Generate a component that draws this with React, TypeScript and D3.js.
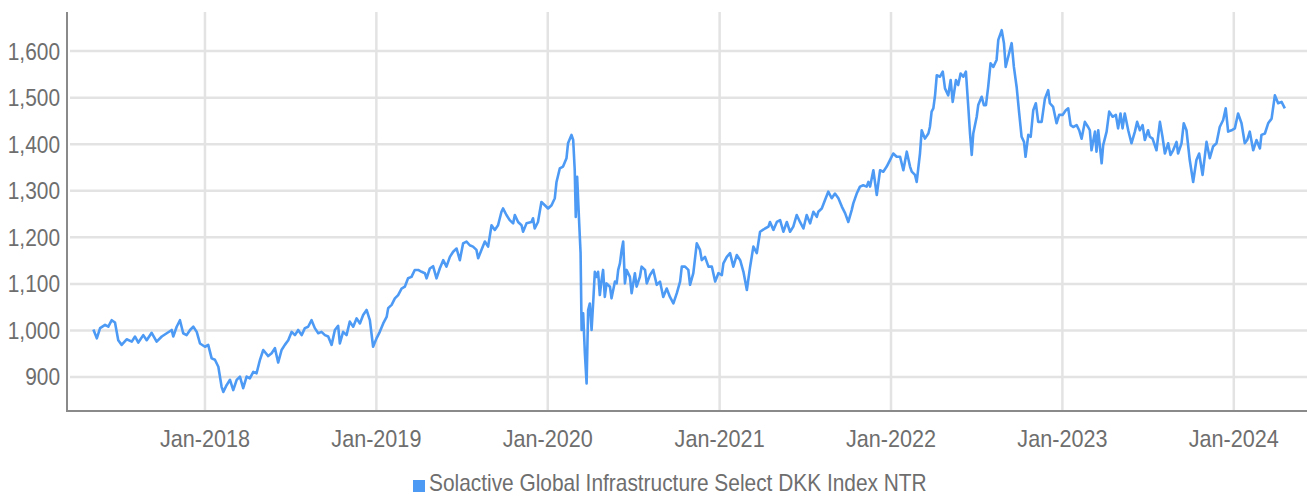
import * as d3 from "d3";
import { useEffect, useRef } from "react";

const seriesName = "Solactive Global Infrastructure Select DKK Index NTR";
const yTicks = [900, 1000, 1100, 1200, 1300, 1400, 1500, 1600];
const xTickYears = [2018, 2019, 2020, 2021, 2022, 2023, 2024];

// [decimal year, index level]
const data2017 = [
  [2017.349, 1002], [2017.369, 983], [2017.388, 1005], [2017.417, 1012], [2017.436, 1008], [2017.456, 1022],
  [2017.475, 1017], [2017.494, 979], [2017.514, 969], [2017.543, 981], [2017.573, 976], [2017.592, 987],
  [2017.611, 974], [2017.640, 990], [2017.660, 979], [2017.689, 995], [2017.718, 976], [2017.748, 987],
  [2017.777, 994], [2017.806, 1001], [2017.815, 987], [2017.835, 1008], [2017.854, 1022], [2017.873, 994],
  [2017.893, 990], [2017.913, 1001], [2017.932, 1008], [2017.952, 997], [2017.971, 972],
];
const data2018 = [
  [2018.000, 965], [2018.019, 969], [2018.039, 940], [2018.058, 937], [2018.078, 922], [2018.097, 879],
  [2018.107, 868], [2018.127, 883], [2018.146, 894], [2018.165, 872], [2018.185, 894], [2018.204, 901],
  [2018.223, 876], [2018.243, 901], [2018.262, 897], [2018.282, 911], [2018.301, 908], [2018.321, 937],
  [2018.340, 958], [2018.369, 945], [2018.389, 951], [2018.408, 962], [2018.427, 931], [2018.447, 958],
  [2018.466, 969], [2018.486, 979], [2018.506, 997], [2018.525, 990], [2018.544, 1001], [2018.564, 990],
  [2018.583, 1005], [2018.602, 1008], [2018.622, 1022], [2018.641, 1005], [2018.661, 994], [2018.680, 997],
  [2018.700, 990], [2018.719, 987], [2018.739, 969], [2018.758, 1001], [2018.777, 1010], [2018.787, 972],
  [2018.806, 997], [2018.826, 990], [2018.845, 1019], [2018.865, 1008], [2018.885, 1026], [2018.904, 1015],
  [2018.923, 1033], [2018.943, 1044], [2018.962, 1022], [2018.981, 965],
];
const data2019 = [
  [2019.001, 983], [2019.020, 997], [2019.040, 1015], [2019.060, 1029], [2019.069, 1048], [2019.089, 1055],
  [2019.108, 1069], [2019.127, 1076], [2019.147, 1090], [2019.166, 1094], [2019.185, 1112], [2019.205, 1115],
  [2019.224, 1130], [2019.244, 1130], [2019.264, 1126], [2019.283, 1123], [2019.293, 1112], [2019.312, 1133],
  [2019.331, 1138], [2019.351, 1112], [2019.370, 1133], [2019.390, 1151], [2019.409, 1137], [2019.429, 1158],
  [2019.448, 1169], [2019.468, 1176], [2019.487, 1151], [2019.506, 1187], [2019.526, 1191], [2019.545, 1183],
  [2019.564, 1180], [2019.584, 1173], [2019.594, 1155], [2019.613, 1173], [2019.633, 1191], [2019.652, 1180],
  [2019.672, 1226], [2019.691, 1216], [2019.710, 1226], [2019.730, 1255], [2019.739, 1262], [2019.759, 1248],
  [2019.778, 1237], [2019.798, 1230], [2019.808, 1248], [2019.827, 1233], [2019.847, 1226], [2019.856, 1212],
  [2019.876, 1230], [2019.905, 1233], [2019.914, 1241], [2019.924, 1219], [2019.943, 1233], [2019.963, 1276],
  [2019.983, 1269],
];
const data2020 = [
  [2020.002, 1262], [2020.022, 1269], [2020.041, 1284], [2020.051, 1319], [2020.070, 1348], [2020.089, 1352],
  [2020.109, 1370], [2020.118, 1402], [2020.138, 1420], [2020.148, 1409], [2020.157, 1344], [2020.163, 1244],
  [2020.171, 1330], [2020.183, 1230], [2020.191, 1166], [2020.197, 1001], [2020.206, 1037], [2020.216, 951],
  [2020.226, 886], [2020.235, 1044], [2020.245, 1058], [2020.255, 1001], [2020.264, 1058], [2020.274, 1126],
  [2020.284, 1115], [2020.293, 1126], [2020.303, 1076], [2020.313, 1108], [2020.322, 1130], [2020.332, 1072],
  [2020.342, 1101], [2020.362, 1094], [2020.371, 1069], [2020.391, 1105], [2020.401, 1101], [2020.410, 1130],
  [2020.420, 1144], [2020.430, 1173], [2020.439, 1191], [2020.449, 1101], [2020.459, 1130], [2020.478, 1115],
  [2020.488, 1080], [2020.507, 1123], [2020.517, 1094], [2020.536, 1115], [2020.546, 1137], [2020.566, 1130],
  [2020.576, 1101], [2020.595, 1119], [2020.614, 1130], [2020.634, 1098], [2020.653, 1105], [2020.672, 1072],
  [2020.692, 1090], [2020.711, 1072], [2020.731, 1058], [2020.751, 1080], [2020.770, 1105], [2020.780, 1137],
  [2020.799, 1137], [2020.818, 1130], [2020.828, 1098], [2020.847, 1123], [2020.867, 1187], [2020.886, 1173],
  [2020.896, 1151], [2020.915, 1158], [2020.935, 1137], [2020.955, 1137], [2020.974, 1105], [2020.993, 1123],
];
const data2021 = [
  [2021.013, 1119], [2021.022, 1144], [2021.042, 1158], [2021.061, 1166], [2021.080, 1137], [2021.100, 1162],
  [2021.120, 1151], [2021.139, 1126], [2021.159, 1087], [2021.178, 1137], [2021.197, 1180], [2021.217, 1166],
  [2021.236, 1212], [2021.265, 1219], [2021.285, 1223], [2021.294, 1233], [2021.314, 1216], [2021.334, 1233],
  [2021.353, 1237], [2021.372, 1212], [2021.392, 1233], [2021.411, 1212], [2021.430, 1223], [2021.450, 1248],
  [2021.469, 1233], [2021.489, 1219], [2021.508, 1248], [2021.528, 1230], [2021.547, 1255], [2021.567, 1244],
  [2021.576, 1255], [2021.596, 1262], [2021.615, 1280], [2021.634, 1298], [2021.654, 1284], [2021.673, 1294],
  [2021.693, 1284], [2021.713, 1266], [2021.732, 1252], [2021.751, 1233], [2021.771, 1259], [2021.780, 1273],
  [2021.800, 1294], [2021.819, 1309], [2021.838, 1312], [2021.858, 1309], [2021.868, 1319], [2021.878, 1309],
  [2021.897, 1344], [2021.917, 1291], [2021.936, 1344], [2021.955, 1341], [2021.975, 1352], [2021.994, 1366],
];
const data2022 = [
  [2022.013, 1380], [2022.033, 1373], [2022.053, 1373], [2022.072, 1344], [2022.092, 1384], [2022.111, 1352],
  [2022.121, 1341], [2022.140, 1334], [2022.150, 1319], [2022.169, 1380], [2022.179, 1430], [2022.198, 1412],
  [2022.218, 1423], [2022.227, 1437], [2022.237, 1470], [2022.247, 1477], [2022.257, 1505], [2022.267, 1548],
  [2022.286, 1545], [2022.302, 1556], [2022.315, 1520], [2022.334, 1505], [2022.348, 1538], [2022.360, 1491],
  [2022.379, 1538], [2022.392, 1527], [2022.406, 1552], [2022.422, 1545], [2022.437, 1556], [2022.451, 1480],
  [2022.461, 1423], [2022.471, 1377], [2022.480, 1423], [2022.500, 1459], [2022.509, 1484], [2022.529, 1502],
  [2022.542, 1484], [2022.554, 1484], [2022.567, 1523], [2022.581, 1574], [2022.597, 1566], [2022.616, 1581],
  [2022.626, 1624], [2022.646, 1645], [2022.659, 1617], [2022.669, 1566], [2022.684, 1588], [2022.704, 1617],
  [2022.717, 1566], [2022.733, 1523], [2022.748, 1466], [2022.762, 1416], [2022.776, 1405], [2022.785, 1373],
  [2022.801, 1420], [2022.815, 1416], [2022.830, 1473], [2022.845, 1488], [2022.859, 1448], [2022.879, 1448],
  [2022.898, 1498], [2022.917, 1516], [2022.927, 1488], [2022.946, 1480], [2022.966, 1445], [2022.981, 1463],
];
const data2023 = [
  [2023.001, 1463], [2023.020, 1473], [2023.034, 1477], [2023.048, 1441], [2023.063, 1437], [2023.083, 1441],
  [2023.098, 1430], [2023.112, 1412], [2023.131, 1448], [2023.150, 1437], [2023.160, 1430], [2023.170, 1387],
  [2023.190, 1427], [2023.199, 1384], [2023.209, 1430], [2023.229, 1359], [2023.238, 1398], [2023.258, 1427],
  [2023.273, 1470], [2023.293, 1459], [2023.312, 1463], [2023.325, 1434], [2023.339, 1466], [2023.351, 1434],
  [2023.364, 1466], [2023.384, 1430], [2023.403, 1402], [2023.423, 1427], [2023.436, 1448], [2023.452, 1430],
  [2023.468, 1441], [2023.481, 1409], [2023.500, 1430], [2023.510, 1416], [2023.526, 1412], [2023.549, 1387],
  [2023.569, 1448], [2023.584, 1416], [2023.598, 1380], [2023.617, 1402], [2023.631, 1377], [2023.646, 1387],
  [2023.666, 1405], [2023.675, 1380], [2023.695, 1402], [2023.708, 1445], [2023.724, 1430], [2023.743, 1366],
  [2023.763, 1319], [2023.782, 1366], [2023.798, 1380], [2023.818, 1334], [2023.841, 1405], [2023.860, 1370],
  [2023.879, 1395], [2023.899, 1402], [2023.918, 1437], [2023.938, 1452], [2023.953, 1477], [2023.967, 1427],
  [2023.987, 1430],
];
const data2024 = [
  [2024.006, 1434], [2024.025, 1466], [2024.045, 1445], [2024.064, 1402], [2024.078, 1409], [2024.093, 1427],
  [2024.113, 1387], [2024.132, 1409], [2024.152, 1391], [2024.161, 1420], [2024.181, 1423], [2024.200, 1445],
  [2024.220, 1455], [2024.239, 1505], [2024.258, 1488], [2024.278, 1491], [2024.297, 1477],
];

// decimal year -> Date (UTC)
const toDate = (t: number) => {
  const y = Math.floor(t);
  const a = Date.UTC(y, 0, 1);
  const b = Date.UTC(y + 1, 0, 1);
  return new Date(a + (t - y) * (b - a));
};

const FONT = "'Liberation Sans', Arial, sans-serif";
const TEXT_COLOR = "#6e6e6e";
const SQUEEZE = 0.87; // шрифт в оригинале узкий

const App = () => {
  const chartRef = useRef<SVGSVGElement | null>(null);

  const width = 1307;
  const height = 496;
  const margin = { top: 12, bottom: 85, left: 67, right: 0 };

  useEffect(() => {
    const svg = d3.select(chartRef.current);
    svg.selectAll("*").remove();

    const data = [...data2017, ...data2018, ...data2019, ...data2020, ...data2021, ...data2022, ...data2023, ...data2024]
      .map(d => ({ date: toDate(d[0]), value: d[1] }));

    const x = d3.scaleUtc()
      .domain([toDate(2017.195), toDate(2024.426)])
      .range([margin.left, width - margin.right]);
    const y = d3.scaleLinear()
      .domain([827, 1684])
      .range([height - margin.bottom, margin.top]);

    const bottom = height - margin.bottom;

    // сетка
    svg.append("g")
      .selectAll("line")
      .data(yTicks)
      .enter()
      .append("line")
      .attr("x1", margin.left + 3)
      .attr("x2", width)
      .attr("y1", d => y(d))
      .attr("y2", d => y(d))
      .attr("stroke", "#e3e3e3")
      .attr("stroke-width", 2.5);

    const xTicks = xTickYears.map(yr => new Date(Date.UTC(yr, 0, 1)));
    svg.append("g")
      .selectAll("line")
      .data(xTicks)
      .enter()
      .append("line")
      .attr("x1", d => x(d))
      .attr("x2", d => x(d))
      .attr("y1", margin.top)
      .attr("y2", bottom)
      .attr("stroke", "#e3e3e3")
      .attr("stroke-width", 2.5);

    // линия
    const line = d3.line<{ date: Date; value: number }>()
      .x(d => x(d.date))
      .y(d => y(d.value));
    svg.append("path")
      .datum(data)
      .attr("d", line)
      .attr("fill", "none")
      .attr("stroke", "#4d9af5")
      .attr("stroke-width", 2.6)
      .attr("stroke-linejoin", "round");

    // оси
    svg.append("line")
      .attr("x1", margin.left).attr("x2", margin.left)
      .attr("y1", margin.top).attr("y2", bottom + 1)
      .attr("stroke", "#8a8a8a").attr("stroke-width", 2);
    svg.append("line")
      .attr("x1", margin.left).attr("x2", width)
      .attr("y1", bottom).attr("y2", bottom)
      .attr("stroke", "#8a8a8a").attr("stroke-width", 2);

    const fmtY = d3.format(",");
    svg.append("g")
      .selectAll("text")
      .data(yTicks)
      .enter()
      .append("text")
      .attr("transform", d => `translate(60,${y(d)}) scale(${SQUEEZE},1)`)
      .attr("dy", "0.35em")
      .attr("text-anchor", "end")
      .style("font-family", FONT)
      .style("font-size", "24px")
      .style("fill", TEXT_COLOR)
      .text(d => fmtY(d));

    const fmtX = d3.utcFormat("%b-%Y");
    svg.append("g")
      .selectAll("text")
      .data(xTicks)
      .enter()
      .append("text")
      .attr("transform", d => `translate(${x(d)},447) scale(0.9,1)`)
      .attr("text-anchor", "middle")
      .style("font-family", FONT)
      .style("font-size", "24px")
      .style("fill", TEXT_COLOR)
      .text(d => fmtX(d));

    // легенда
    svg.append("rect")
      .attr("x", 413).attr("y", 480)
      .attr("width", 12).attr("height", 12)
      .style("fill", "#4d9af5");
    svg.append("text")
      .attr("transform", `translate(429,491) scale(${SQUEEZE},1)`)
      .style("font-family", FONT)
      .style("font-size", "24px")
      .style("fill", TEXT_COLOR)
      .text(seriesName);
  }, []);

  return (
    <svg ref={chartRef} width={width} height={height}
      style={{ position: "absolute", left: 0, top: 0, background: "#fff" }}></svg>
  );
};

export default App;
